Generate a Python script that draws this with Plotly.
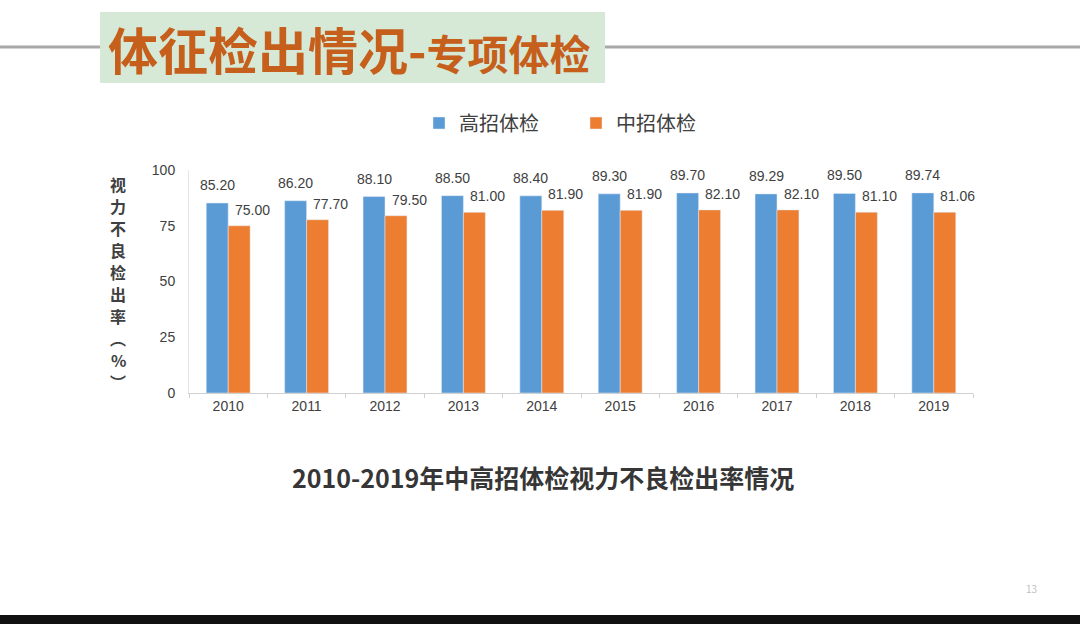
import plotly.graph_objects as go

years = ["2010", "2011", "2012", "2013", "2014", "2015", "2016", "2017", "2018", "2019"]
gaozhao = [85.20, 86.20, 88.10, 88.50, 88.40, 89.30, 89.70, 89.29, 89.50, 89.74]
zhongzhao = [75.00, 77.70, 79.50, 81.00, 81.90, 81.90, 82.10, 82.10, 81.10, 81.06]
series_names = ["高招体检", "中招体检"]
y_ticks = [0, 25, 50, 75, 100]
y_title_chars = ["视", "力", "不", "良", "检", "出", "率", "︵", "%", "︶"]

FONT = "Noto Sans CJK SC, Noto Sans, sans-serif"
NUMFONT = "Liberation Sans, Arial, sans-serif"
BLUE = "#5b9bd5"
ORANGE = "#ed7d31"

W, H = 1080, 624
L, R, T, B = 189, 973, 170, 393  # plot area in pixels
PW, PH = R - L, B - T


def px(xp):
    return (xp - L) / PW


def py(yp):
    return (B - yp) / PH


fig = go.Figure()
fig.add_trace(go.Bar(x=years, y=gaozhao, name=series_names[0], marker_color=BLUE))
fig.add_trace(go.Bar(x=years, y=zhongzhao, name=series_names[1], marker_color=ORANGE))

# data labels
for i, yr in enumerate(years):
    fig.add_annotation(x=i, y=gaozhao[i], xref="x", yref="y", text=f"{gaozhao[i]:.2f}",
                       showarrow=False, xshift=-11, yshift=18, yanchor="middle",
                       font=dict(family=NUMFONT, size=14, color="#404040"))
    fig.add_annotation(x=i, y=zhongzhao[i], xref="x", yref="y", text=f"{zhongzhao[i]:.2f}",
                       showarrow=False, xshift=24, yshift=16, yanchor="middle",
                       font=dict(family=NUMFONT, size=14, color="#404040"))

# y-axis title (vertical stacked characters)
for k, ch in enumerate(y_title_chars):
    fig.add_annotation(x=px(118), y=py(184 + 22 * k), xref="paper", yref="paper",
                       text=f"<b>{ch}</b>", showarrow=False, xanchor="center", yanchor="middle",
                       font=dict(family=FONT, size=16, color="#404040"))

fig.update_layout(
    width=W, height=H,
    margin=dict(l=L, r=W - R, t=T, b=H - B, autoexpand=False),
    paper_bgcolor="white", plot_bgcolor="white",
    barmode="group", bargap=0.44, bargroupgap=0,
    font=dict(family=FONT, size=14, color="#404040"),
    showlegend=True,
    legend=dict(orientation="h", x=px(419), y=py(123), xanchor="left", yanchor="middle",
                font=dict(family=FONT, size=20, color="#404040"),
                entrywidth=112, entrywidthmode="pixels", itemclick=False),
    xaxis=dict(type="category", range=[-0.5, 9.5], showline=True, linecolor="#d0d0d0", linewidth=1,
               ticks="outside", tickson="boundaries", ticklen=4, tickcolor="#d0d0d0",
               tickangle=0, tickfont=dict(family=NUMFONT, size=14, color="#404040"), showgrid=False),
    yaxis=dict(range=[0, 100], tickvals=y_ticks, showgrid=False, zeroline=False,
               showline=True, linecolor="#e6e6e6", ticks="", ticklabelstandoff=10,
               tickfont=dict(family=NUMFONT, size=14, color="#404040")),
)

# slide decorations
fig.add_shape(type="line", xref="paper", yref="paper",
              x0=px(0), x1=px(100), y0=py(47), y1=py(47),
              line=dict(color="#a8a8a8", width=3), layer="below")
fig.add_shape(type="line", xref="paper", yref="paper",
              x0=px(605), x1=px(1080), y0=py(47), y1=py(47),
              line=dict(color="#a8a8a8", width=3), layer="below")
fig.add_shape(type="rect", xref="paper", yref="paper",
              x0=px(100), x1=px(605), y0=py(12), y1=py(83),
              fillcolor="#d5e9d6", line=dict(width=0), layer="below")
fig.add_annotation(x=px(106), y=py(48), xref="paper", yref="paper",
                   text="<b>体征检出情况-<span style='font-size:41px'>专项体检</span></b>",
                   showarrow=False, xanchor="left", yanchor="middle",
                   font=dict(family=FONT, size=50, color="#c65f1c"))
fig.add_annotation(x=px(543), y=py(477), xref="paper", yref="paper",
                   text="<b>2010-2019年中高招体检视力不良检出率情况</b>", showarrow=False,
                   xanchor="center", yanchor="middle",
                   font=dict(family=FONT, size=25, color="#363636"))
fig.add_annotation(x=px(1031), y=py(588), xref="paper", yref="paper",
                   text="13", showarrow=False, xanchor="center", yanchor="middle",
                   font=dict(family=FONT, size=10, color="#c0c0c0"))
fig.add_shape(type="rect", xref="paper", yref="paper",
              x0=px(0), x1=px(1080), y0=py(615), y1=py(624),
              fillcolor="#111111", line=dict(width=0))

fig.write_html("out.html", config={"displayModeBar": False},
               post_script="document.body.style.margin='0';document.body.style.overflow='hidden';")
